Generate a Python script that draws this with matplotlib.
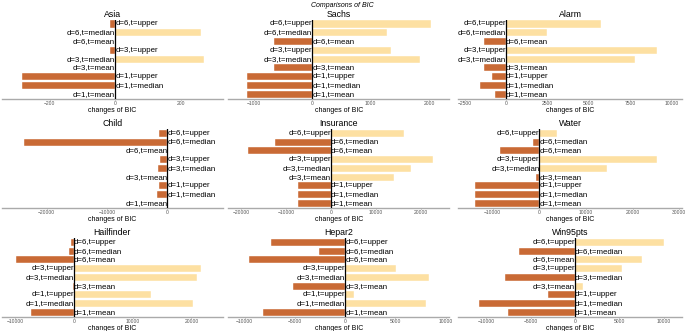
import matplotlib
matplotlib.use("Agg")
import matplotlib.pyplot as plt
import numpy as np

# row labels, top to bottom
LABELS = ["d=6,t=upper", "d=6,t=median", "d=6,t=mean",
          "d=3,t=upper", "d=3,t=median", "d=3,t=mean",
          "d=1,t=upper", "d=1,t=median", "d=1,t=mean"]

NETWORKS = ["Asia", "Sachs", "Alarm", "Child", "Insurance", "Water",
            "Hailfinder", "Hepar2", "Win95pts"]

# changes of BIC per network, same order as LABELS
asia = [-16, 263, 0, -16, 270, 0, -285, -285, 0]
sachs = [2029, 1286, -657, 1343, 1840, -657, -1126, -1126, -1126]
alarm = [5726, 2480, -1310, 9133, 7823, -1310, -847, -1573, -645]
child = [-1381, -23700, 0, -1270, -1547, 0, -1326, -1657, 0]
insurance = [16222, -12444, -18370, 22593, 17704, 13926, -7259, -7259, -7259]
water = [3732, -1338, -8380, 25211, 14507, -775, -13732, -13732, -13732]
hailfinder = [-511, -852, -9886, 21591, 20909, -170, 13125, 20341, -7386]
hepar2 = [-7355, -2581, -9548, 5065, 8290, -5161, 871, 8000, -8194]
win95pts = [10000, -6316, 7556, 5301, -7895, 902, -3083, -10827, -7519]

VALUES = [asia, sachs, alarm, child, insurance, water, hailfinder, hepar2, win95pts]

# x ranges of each panel
XLIMS = [(-346, 328), (-1440, 2343), (-2883, 10625),
         (-27459, 9171), (-22815, 26222), (-17394, 30500),
         (-12330, 25341), (-11613, 10322), (-13158, 12030)]
XTICKS = [[-200, 0, 200], [-1000, 0, 1000, 2000], [-2500, 0, 2500, 5000, 7500, 10000],
          [-20000, -10000, 0], [-20000, -10000, 0, 10000, 20000], [-10000, 0, 10000, 20000, 30000],
          [-10000, 0, 10000, 20000], [-10000, -5000, 0, 5000, 10000], [-10000, -5000, 0, 5000, 10000]]

NEG = "#c96a35"
POS = "#fde0a2"

plt.rcParams["font.family"] = ["Liberation Sans", "DejaVu Sans"]

fig = plt.figure(figsize=(6.85, 3.31), dpi=100)
W, H = 685, 331
cols = [(1.7, 222.7), (228.3, 449.0), (458.3, 681.7)]
rows = [(19.6, 98.7), (128.9, 207.7), (238.0, 316.7)]

y = np.arange(len(LABELS))[::-1]
for k, (name, vals) in enumerate(zip(NETWORKS, VALUES)):
    r, c = divmod(k, 3)
    x0, x1 = cols[c]
    t0, t1 = rows[r]
    ax = fig.add_axes([x0 / W, 1 - t1 / H, (x1 - x0) / W, (t1 - t0) / H])
    vals = np.array(vals, dtype=float)
    colors = [NEG if v < 0 else POS for v in vals]
    ax.barh(y, vals, height=0.8, color=colors, edgecolor="white", linewidth=0.3)
    ax.axvline(0, color="black", lw=0.9, zorder=3)
    for yy, v, lab in zip(y, vals, LABELS):
        if v < 0:
            ax.text(0, yy, lab, ha="left", va="center", fontsize=5.7, zorder=4)
        else:
            ax.text(0, yy, lab, ha="right", va="center", fontsize=5.7, zorder=4)
    ax.set_xlim(*XLIMS[k])
    ax.set_ylim(-0.5, 8.5)
    ax.set_xticks(XTICKS[k])
    ax.set_yticks([])
    ax.tick_params(axis="x", labelsize=3.6, colors="#555555", length=1, width=0.4, pad=1)
    for s in ["top", "right", "left"]:
        ax.spines[s].set_visible(False)
    ax.spines["bottom"].set_color("#aaaaaa")
    ax.spines["bottom"].set_linewidth(1.0)
    ax.set_xlabel("changes of BIC", fontsize=5, labelpad=0.5)
    ax.set_title(name, fontsize=6.3, pad=2)

fig.text(0.5, 0.995, "Comparisons of BIC", ha="center", va="top", fontsize=5, style="italic")

fig.savefig("out.png", dpi=100)
